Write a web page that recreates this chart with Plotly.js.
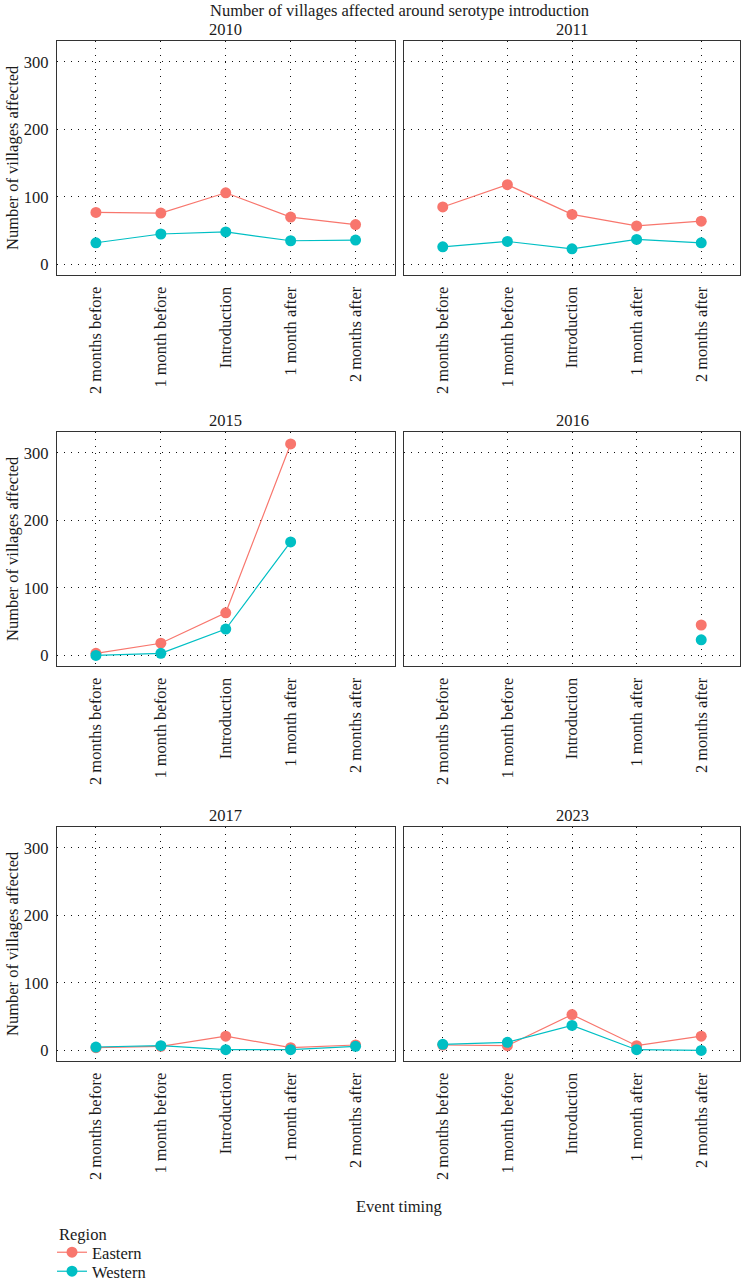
<!DOCTYPE html>
<html>
<head>
<meta charset="utf-8">
<script src="https://cdn.plot.ly/plotly-3.0.1.min.js"></script>
<style>
  html, body { margin: 0; padding: 0; background: #fff; }
  #chart { width: 742px; height: 1283px; }
</style>
</head>
<body>
<div id="chart"></div>
<script>
// Event timing categories (x axis of every panel)
const timing = ["2 months before", "1 month before", "Introduction", "1 month after", "2 months after"];

// Panel years
const years = ["2010", "2011", "2015", "2016", "2017", "2023"];

// Villages affected per region, one array per year (null = no observation)
const eastern2010 = [77, 76, 106, 70, 59];
const western2010 = [32, 45, 48, 35, 36];
const eastern2011 = [85, 118, 74, 57, 64];
const western2011 = [26, 34, 23, 37, 32];
const eastern2015 = [3, 18, 63, 313, null];
const western2015 = [0, 3, 39, 168, null];
const eastern2016 = [null, null, null, null, 45];
const western2016 = [null, null, null, null, 23];
const eastern2017 = [4, 6, 21, 4, 8];
const western2017 = [5, 7, 1, 1, 6];
const eastern2023 = [8, 7, 53, 7, 21];
const western2023 = [9, 12, 37, 1, 0];

const easternByYear = [eastern2010, eastern2011, eastern2015, eastern2016, eastern2017, eastern2023];
const westernByYear = [western2010, western2011, western2015, western2016, western2017, western2023];

const yTicks = [0, 100, 200, 300];

const W = 742, H = 1283;
const FONT = "Liberation Serif, Times New Roman, serif";
const FS = 16.5;
const TXT = "#1a1a1a";
const EAST = "#F8766D", WEST = "#00BFC4";

// Panel geometry in pixels
const cols = [[57, 394.5], [404, 740]];
const rows = [[41, 275], [432, 666], [827, 1061]];

const px = v => v / W;
const py = v => 1 - v / H;
const font = () => ({family: FONT, size: FS, color: TXT});

// One legend box per region so the entries sit close together
const legendBox = top => ({
  x: px(52), xanchor: "left",
  y: py(top), yanchor: "top",
  font: font(),
  bgcolor: "rgba(0,0,0,0)",
  itemwidth: 30
});

const traces = [];
const layout = {
  width: W, height: H,
  margin: {l: 0, r: 0, t: 0, b: 0, autoexpand: false},
  paper_bgcolor: "#fff",
  plot_bgcolor: "#fff",
  font: font(),
  showlegend: true,
  legend: legendBox(1235),
  legend2: legendBox(1254),
  annotations: [],
  hovermode: false
};

years.forEach((yr, i) => {
  const r = Math.floor(i / 2), c = i % 2;
  const n = i + 1;
  const xa = "xaxis" + (n === 1 ? "" : n);
  const ya = "yaxis" + (n === 1 ? "" : n);
  const xref = "x" + (n === 1 ? "" : n);
  const yref = "y" + (n === 1 ? "" : n);

  layout[xa] = {
    domain: [px(cols[c][0]), px(cols[c][1])],
    anchor: yref,
    type: "category",
    categoryorder: "array",
    categoryarray: timing,
    range: [-0.6, 4.6],
    tickangle: -90,
    tickfont: font(),
    ticks: "",
    ticklabelstandoff: 4,
    automargin: false,
    showline: true, mirror: true, linecolor: "#333", linewidth: 1.2,
    showgrid: true, gridcolor: "#111", gridwidth: 1, griddash: "1px,6px",
    zeroline: false,
    fixedrange: true
  };
  layout[ya] = {
    domain: [py(rows[r][1]), py(rows[r][0])],
    anchor: xref,
    range: [-15.7, 330.7],
    tickvals: yTicks,
    ticktext: yTicks.map(String),
    showticklabels: c === 0,
    tickfont: font(),
    ticks: "",
    ticklabelstandoff: 4,
    automargin: false,
    showline: true, mirror: true, linecolor: "#333", linewidth: 1.2,
    showgrid: true, gridcolor: "#111", gridwidth: 1, griddash: "1px,6px",
    zeroline: false,
    fixedrange: true
  };

  traces.push({
    x: timing, y: easternByYear[i], xaxis: xref, yaxis: yref,
    type: "scatter", mode: "lines+markers", name: "Eastern",
    legend: "legend", legendgroup: "Eastern", showlegend: i === 0,
    line: {color: EAST, width: 1.2},
    marker: {color: EAST, size: 11},
    connectgaps: false
  });
  traces.push({
    x: timing, y: westernByYear[i], xaxis: xref, yaxis: yref,
    type: "scatter", mode: "lines+markers", name: "Western",
    legend: "legend2", legendgroup: "Western", showlegend: i === 0,
    line: {color: WEST, width: 1.2},
    marker: {color: WEST, size: 11},
    connectgaps: false
  });

  // Facet strip label
  layout.annotations.push({
    text: yr, xref: "paper", yref: "paper",
    x: px((cols[c][0] + cols[c][1]) / 2), y: py(rows[r][0] - 12),
    xanchor: "center", yanchor: "middle", showarrow: false,
    font: font()
  });

  // Y axis title on the left column
  if (c === 0) {
    layout.annotations.push({
      text: "Number of villages affected", xref: "paper", yref: "paper",
      x: px(12), y: py((rows[r][0] + rows[r][1]) / 2),
      xanchor: "center", yanchor: "middle", textangle: -90, showarrow: false,
      font: font()
    });
  }
});

layout.annotations.push({
  text: "Number of villages affected around serotype introduction",
  xref: "paper", yref: "paper", x: px(399), y: py(10),
  xanchor: "center", yanchor: "middle", showarrow: false,
  font: font()
});
layout.annotations.push({
  text: "Event timing",
  xref: "paper", yref: "paper", x: px(399), y: py(1206),
  xanchor: "center", yanchor: "middle", showarrow: false,
  font: font()
});
// Legend heading
layout.annotations.push({
  text: "Region",
  xref: "paper", yref: "paper", x: px(57), y: py(1234),
  xanchor: "left", yanchor: "middle", showarrow: false,
  font: font()
});

Plotly.newPlot("chart", traces, layout, {staticPlot: true, displayModeBar: false});
</script>
</body>
</html>
